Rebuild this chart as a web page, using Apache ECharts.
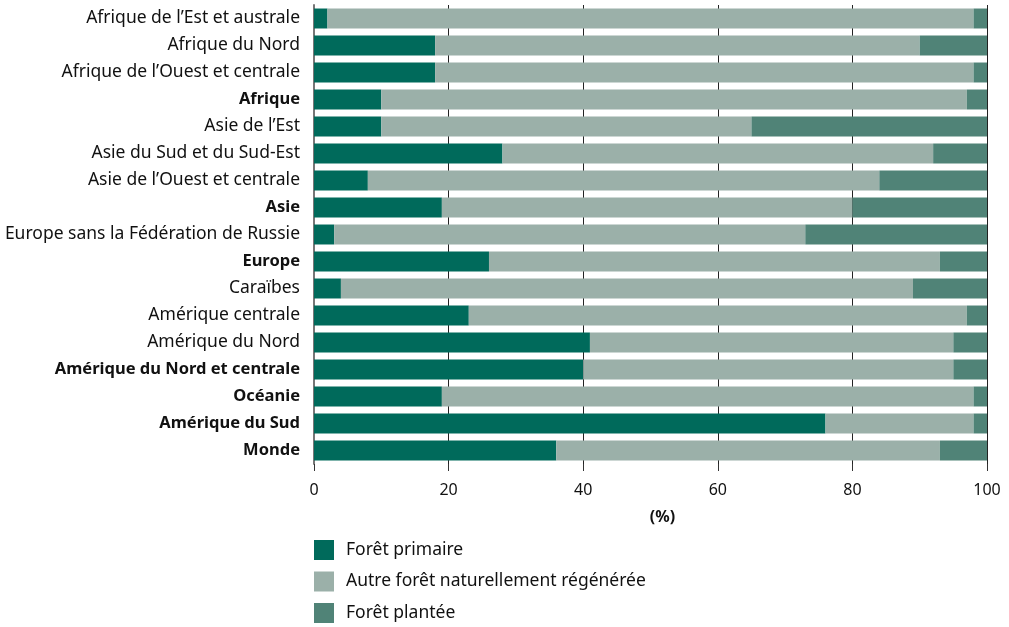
<!DOCTYPE html>
<html>
<head>
<meta charset="utf-8">
<script src="https://cdn.jsdelivr.net/npm/echarts@6/dist/echarts.min.js"></script>
<style>
  html, body { margin: 0; padding: 0; background: #fff; }
  #chart { width: 1009px; height: 627px; }
</style>
</head>
<body>
<div id="chart"></div>
<script>
// categories top to bottom
var regions = [
  'Afrique de l\u2019Est et australe',
  'Afrique du Nord',
  'Afrique de l\u2019Ouest et centrale',
  'Afrique',
  'Asie de l\u2019Est',
  'Asie du Sud et du Sud-Est',
  'Asie de l\u2019Ouest et centrale',
  'Asie',
  'Europe sans la F\u00e9d\u00e9ration de Russie',
  'Europe',
  'Cara\u00efbes',
  'Am\u00e9rique centrale',
  'Am\u00e9rique du Nord',
  'Am\u00e9rique du Nord et centrale',
  'Oc\u00e9anie',
  'Am\u00e9rique du Sud',
  'Monde'
]
// rows printed in bold (totals)
var boldRows = ['Afrique', 'Asie', 'Europe', 'Am\u00e9rique du Nord et centrale', 'Oc\u00e9anie', 'Am\u00e9rique du Sud', 'Monde']

var primaire = [2, 18, 18, 10, 10, 28, 8, 19, 3, 26, 4, 23, 41, 40, 19, 76, 36]
var regeneree = [96, 72, 80, 87, 55, 64, 76, 61, 70, 67, 85, 74, 54, 55, 79, 22, 57]
var plantee = [2, 10, 2, 3, 35, 8, 16, 20, 27, 7, 11, 3, 5, 5, 2, 2, 7]
var xTicks = [0, 20, 40, 60, 80, 100]

var chart = echarts.init(document.getElementById('chart'))

var font = 'Noto Sans'

function barSeries (name, data, color) {
  return {
    name: name,
    type: 'bar',
    stack: 'total',
    barCategoryGap: '26%',
    data: data,
    itemStyle: { color: color },
    emphasis: { disabled: true }
  }
}

chart.setOption({
  animation: false,
  textStyle: { fontFamily: font },
  grid: {
    left: 314,
    right: 22,
    top: 5,
    height: 459
  },
  legend: {
    orient: 'vertical',
    left: 314,
    top: 540,
    padding: 0,
    itemWidth: 20,
    itemHeight: 20,
    itemGap: 11.5,
    icon: 'rect',
    textStyle: { fontSize: 17.5, color: '#111', fontFamily: font, padding: [0, 0, 0, 7] }
  },
  xAxis: {
    type: 'value',
    min: xTicks[0],
    max: xTicks[xTicks.length - 1],
    interval: 20,
    name: '(%)',
    nameLocation: 'middle',
    nameGap: 45,
    nameTextStyle: { fontSize: 16, fontWeight: 'bold', color: '#111', padding: [0, 0, 0, 24] },
    axisLine: { show: false },
    axisTick: { show: true, length: 7, lineStyle: { color: '#333' } },
    axisLabel: { fontSize: 16, color: '#111', margin: 18 },
    splitLine: { show: true, lineStyle: { color: '#222', width: 1 } }
  },
  yAxis: {
    type: 'category',
    inverse: true,
    data: regions,
    axisLine: { show: true, lineStyle: { color: '#777', width: 2 } },
    axisTick: { show: false },
    axisLabel: {
      fontSize: 17.5,
      color: '#111',
      margin: 14,
      formatter: function (v) {
        return boldRows.indexOf(v) >= 0 ? '{b|' + v + '}' : v
      },
      rich: {
        b: { fontWeight: 'bold', fontSize: 16.5, color: '#111', fontFamily: font }
      }
    }
  },
  series: [
    barSeries('For\u00eat primaire', primaire, '#006a5b'),
    barSeries('Autre for\u00eat naturellement r\u00e9g\u00e9n\u00e9r\u00e9e', regeneree, '#9bb0a9'),
    barSeries('For\u00eat plant\u00e9e', plantee, '#508377')
  ]
})
</script>
</body>
</html>
